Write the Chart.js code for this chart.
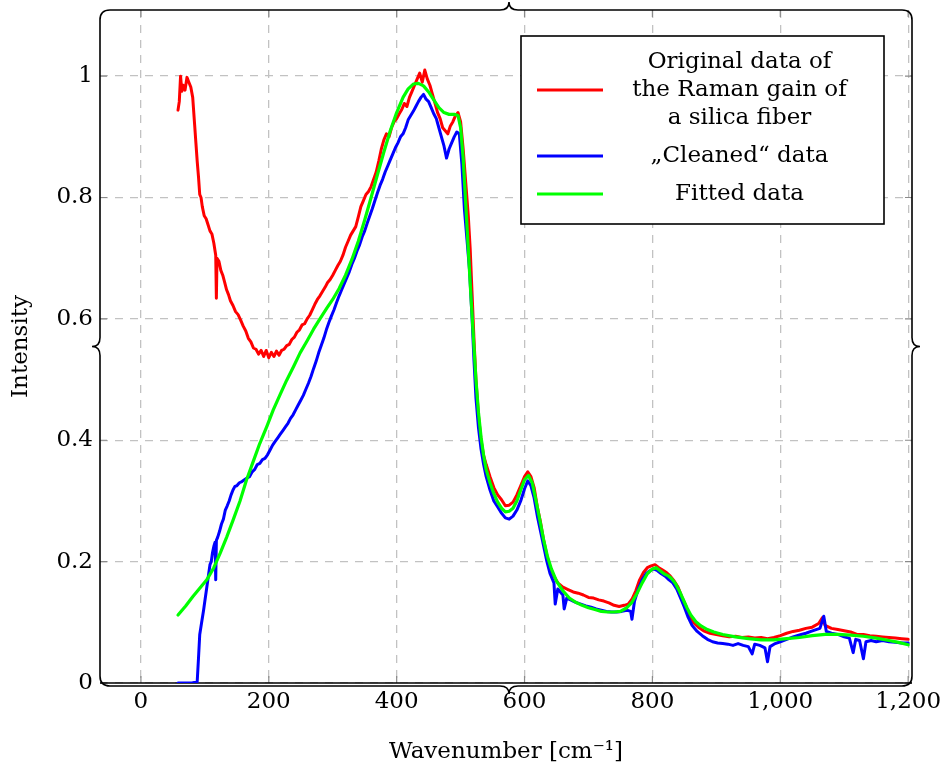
<!DOCTYPE html>
<html>
<head>
<meta charset="utf-8">
<script src="https://cdn.jsdelivr.net/npm/chart.js@4.4.0/dist/chart.umd.min.js"></script>
<style>
html, body { margin: 0; padding: 0; background: #fff; }
</style>
</head>
<body>
<canvas id="raman_chart" width="947" height="769"></canvas>
<script>
// original measurement (red)
var originalX = [58, 60, 62, 64, 66, 69, 72, 75, 78, 81, 84, 86, 88, 90, 92, 94, 96, 99, 102, 105, 108, 111, 114, 117, 118, 119, 122, 125, 128, 131, 134, 137, 140, 144, 148, 152, 156, 160, 164, 168, 172, 176, 180, 184, 188, 192, 196, 200, 204, 208, 212, 216, 220, 224, 228, 232, 236, 240, 244, 248, 252, 256, 260, 264, 268, 272, 276, 280, 284, 288, 292, 296, 300, 304, 308, 312, 316, 320, 324, 328, 332, 336, 340, 344, 348, 352, 356, 360, 364, 368, 372, 376, 380, 384, 388, 392, 396, 400, 404, 408, 412, 416, 420, 424, 428, 432, 436, 440, 444, 448, 452, 456, 460, 464, 468, 472, 476, 480, 484, 488, 492, 496, 500, 504, 508, 512, 515, 518, 521, 524, 528, 532, 536, 540, 546, 552, 558, 564, 570, 576, 582, 588, 594, 600, 605, 610, 615, 620, 625, 630, 635, 640, 646, 652, 660, 668, 676, 684, 692, 700, 708, 716, 724, 732, 740, 748, 756, 762, 768, 774, 780, 786, 792, 798, 804, 810, 816, 822, 828, 834, 840, 846, 852, 858, 864, 872, 880, 890, 900, 910, 920, 930, 940, 950, 960, 970, 980, 990, 1000, 1010, 1020, 1030, 1040, 1050, 1060, 1066, 1070, 1080, 1090, 1100, 1110, 1120, 1130, 1140, 1150, 1160, 1170, 1180, 1190, 1200];
var originalY = [0.944, 0.958, 1.0, 0.975, 0.985, 0.977, 0.998, 0.99, 0.982, 0.965, 0.92, 0.89, 0.86, 0.835, 0.805, 0.8, 0.785, 0.77, 0.765, 0.755, 0.745, 0.74, 0.725, 0.705, 0.634, 0.70, 0.695, 0.68, 0.672, 0.66, 0.648, 0.64, 0.63, 0.622, 0.612, 0.607, 0.598, 0.588, 0.58, 0.568, 0.562, 0.552, 0.55, 0.542, 0.548, 0.538, 0.548, 0.536, 0.545, 0.538, 0.547, 0.54, 0.548, 0.55, 0.556, 0.558, 0.566, 0.57, 0.578, 0.582, 0.59, 0.592, 0.6, 0.606, 0.615, 0.624, 0.632, 0.638, 0.645, 0.652, 0.66, 0.665, 0.672, 0.68, 0.688, 0.695, 0.705, 0.718, 0.728, 0.738, 0.745, 0.752, 0.768, 0.785, 0.795, 0.805, 0.81, 0.818, 0.83, 0.842, 0.86, 0.88, 0.895, 0.905, 0.9, 0.915, 0.925, 0.93, 0.938, 0.945, 0.955, 0.95, 0.965, 0.975, 0.985, 0.995, 1.005, 0.99, 1.01, 0.995, 0.985, 0.97, 0.955, 0.94, 0.93, 0.915, 0.91, 0.905, 0.918, 0.925, 0.935, 0.94, 0.925, 0.88, 0.825, 0.77, 0.715, 0.64, 0.565, 0.5, 0.44, 0.4, 0.375, 0.36, 0.34, 0.322, 0.31, 0.302, 0.292, 0.293, 0.298, 0.31, 0.325, 0.34, 0.348, 0.34, 0.322, 0.29, 0.265, 0.235, 0.21, 0.19, 0.176, 0.165, 0.158, 0.154, 0.15, 0.148, 0.145, 0.141, 0.14, 0.137, 0.135, 0.132, 0.128, 0.126, 0.128, 0.13, 0.138, 0.152, 0.17, 0.182, 0.19, 0.193, 0.195, 0.19, 0.186, 0.182, 0.176, 0.168, 0.158, 0.142, 0.128, 0.112, 0.1, 0.092, 0.086, 0.082, 0.08, 0.078, 0.076, 0.077, 0.075, 0.076, 0.074, 0.075, 0.073, 0.075, 0.078, 0.082, 0.085, 0.087, 0.09, 0.092, 0.098, 0.108, 0.095, 0.09, 0.088, 0.086, 0.084, 0.08, 0.08, 0.078, 0.077, 0.076, 0.075, 0.074, 0.073, 0.072];

// cleaned data (blue)
var cleanedX = [58, 70, 80, 88, 90, 92, 95, 98, 100, 102, 104, 106, 108, 110, 112, 114, 116, 117, 118, 120, 123, 126, 129, 132, 135, 138, 141, 144, 147, 150, 154, 158, 162, 166, 170, 174, 178, 182, 186, 190, 194, 198, 202, 206, 210, 214, 218, 222, 226, 230, 234, 238, 242, 246, 250, 254, 258, 262, 266, 270, 274, 278, 282, 286, 290, 294, 298, 302, 306, 310, 314, 318, 322, 326, 330, 334, 338, 342, 346, 350, 354, 358, 362, 366, 370, 374, 378, 382, 386, 390, 394, 398, 402, 406, 410, 414, 418, 422, 426, 430, 434, 438, 442, 446, 450, 454, 458, 462, 466, 470, 474, 478, 482, 486, 490, 494, 498, 502, 506, 510, 514, 518, 521, 524, 528, 532, 536, 540, 546, 552, 558, 564, 570, 576, 582, 588, 594, 600, 605, 610, 615, 620, 625, 630, 635, 640, 646, 648, 652, 656, 660, 662, 666, 672, 680, 688, 696, 704, 712, 720, 728, 736, 744, 752, 760, 766, 768, 772, 778, 784, 790, 796, 802, 808, 814, 820, 826, 832, 838, 844, 850, 856, 862, 870, 878, 886, 894, 902, 910, 918, 926, 934, 942, 950, 956, 960, 968, 976, 980, 984, 992, 1000, 1010, 1020, 1030, 1040, 1048, 1056, 1062, 1068, 1072, 1080, 1090, 1100, 1108, 1114, 1118, 1124, 1130, 1134, 1142, 1150, 1160, 1170, 1180, 1190, 1200];
var cleanedY = [0, 0, 0, 0.002, 0.04, 0.08, 0.1, 0.12, 0.135, 0.15, 0.165, 0.18, 0.195, 0.2, 0.215, 0.225, 0.232, 0.17, 0.235, 0.24, 0.25, 0.262, 0.27, 0.285, 0.292, 0.3, 0.31, 0.318, 0.324, 0.325, 0.33, 0.332, 0.335, 0.338, 0.34, 0.348, 0.352, 0.36, 0.362, 0.368, 0.37, 0.376, 0.384, 0.392, 0.398, 0.404, 0.41, 0.416, 0.422, 0.428, 0.436, 0.442, 0.45, 0.458, 0.466, 0.474, 0.484, 0.494, 0.505, 0.518, 0.53, 0.544, 0.556, 0.568, 0.582, 0.594, 0.605, 0.615, 0.627, 0.638, 0.648, 0.658, 0.668, 0.678, 0.69, 0.7, 0.712, 0.722, 0.735, 0.745, 0.758, 0.77, 0.782, 0.795, 0.808, 0.82, 0.83, 0.842, 0.852, 0.862, 0.872, 0.882, 0.89, 0.9, 0.905, 0.915, 0.928, 0.935, 0.942, 0.95, 0.958, 0.965, 0.97, 0.962, 0.958, 0.948, 0.938, 0.93, 0.915, 0.9, 0.885, 0.865, 0.88, 0.89, 0.9, 0.908, 0.905, 0.855, 0.78, 0.73, 0.68, 0.6, 0.53, 0.47, 0.42, 0.385, 0.36, 0.34, 0.318, 0.3, 0.29, 0.28, 0.272, 0.27, 0.275, 0.285, 0.3, 0.32, 0.333, 0.325, 0.305, 0.275, 0.25, 0.225, 0.2, 0.18, 0.165, 0.13, 0.155, 0.15, 0.145, 0.122, 0.14, 0.137, 0.133, 0.13, 0.127, 0.125, 0.122, 0.12, 0.118, 0.117, 0.117, 0.118, 0.12, 0.118, 0.105, 0.135, 0.155, 0.17, 0.18, 0.185, 0.188, 0.185, 0.18, 0.176, 0.17, 0.165, 0.155, 0.14, 0.125, 0.108, 0.095, 0.085, 0.078, 0.072, 0.068, 0.066, 0.065, 0.064, 0.062, 0.065, 0.062, 0.06, 0.048, 0.064, 0.062, 0.058, 0.035, 0.06, 0.065, 0.068, 0.072, 0.076, 0.079, 0.082, 0.085, 0.088, 0.09, 0.11, 0.085, 0.082, 0.08, 0.076, 0.074, 0.05, 0.072, 0.07, 0.04, 0.068, 0.07, 0.068, 0.07, 0.068, 0.067, 0.066, 0.066];

// fitted curve (green)
var fittedX = [58, 70, 81, 92, 103, 114, 124, 134, 144, 155, 165, 176, 186, 197, 207, 218, 228, 239, 249, 260, 270, 280, 291, 300, 310, 320, 330, 340, 350, 360, 370, 380, 390, 400, 410, 418, 426, 434, 442, 450, 458, 466, 474, 482, 490, 496, 500, 504, 508, 512, 516, 520, 524, 528, 532, 536, 540, 546, 552, 558, 564, 570, 576, 582, 588, 594, 600, 606, 612, 618, 624, 630, 636, 642, 650, 660, 670, 680, 690, 700, 710, 720, 730, 740, 750, 760, 768, 776, 784, 792, 800, 806, 812, 818, 824, 830, 836, 842, 848, 854, 860, 868, 876, 886, 896, 910, 930, 950, 970, 990, 1010, 1030, 1050, 1070, 1090, 1110, 1130, 1150, 1170, 1185, 1200];
var fittedY = [0.112, 0.127, 0.142, 0.156, 0.17, 0.19, 0.214, 0.24, 0.268, 0.3, 0.334, 0.366, 0.395, 0.423, 0.45, 0.476, 0.499, 0.522, 0.544, 0.564, 0.583, 0.6, 0.618, 0.632, 0.65, 0.672, 0.698, 0.728, 0.763, 0.8, 0.838, 0.875, 0.91, 0.94, 0.965, 0.979, 0.987, 0.988, 0.984, 0.974, 0.961, 0.948, 0.94, 0.937, 0.937, 0.935, 0.915, 0.865, 0.79, 0.715, 0.64, 0.57, 0.5, 0.445, 0.405, 0.375, 0.352, 0.33, 0.312, 0.298, 0.288, 0.282, 0.283, 0.288, 0.3, 0.318, 0.335, 0.342, 0.33, 0.3, 0.268, 0.235, 0.208, 0.188, 0.168, 0.152, 0.14, 0.133, 0.128, 0.124, 0.121, 0.118, 0.117, 0.117, 0.118, 0.124, 0.133, 0.148, 0.165, 0.18, 0.188, 0.19, 0.185, 0.18, 0.177, 0.172, 0.164, 0.152, 0.138, 0.124, 0.112, 0.101, 0.094, 0.088, 0.084, 0.08, 0.076, 0.073, 0.071, 0.071, 0.073, 0.075, 0.078, 0.08, 0.08, 0.079, 0.077, 0.074, 0.07, 0.067, 0.063];

var seriesLabels = ["Original data of\nthe Raman gain of\na silica fiber", "\u201eCleaned\u201c data", "Fitted data"];
var seriesColors = ["#ff0000", "#0000ff", "#00ff00"];
var xTicks = [0, 200, 400, 600, 800, 1000, 1200];
var yTicks = [0, 0.2, 0.4, 0.6, 0.8, 1];

var fontFamily = "'DejaVu Serif', serif";

function toPoints(xs, ys) {
    return xs.map(function(x, i) { return { x: x, y: ys[i] }; });
}

// axis box with a brace on every side, ticks drawn inside
var braceFrame = {
    id: 'braceFrame',
    beforeDatasetsDraw: function(chart) {
        var ctx = chart.ctx;
        var a = chart.chartArea;
        var L = a.left, R = a.right, T = a.top, B = a.bottom;
        var r = 10, tip = 8, w = 9;
        var mx = (L + R) / 2 + 3, my = (T + B) / 2;
        ctx.save();

        ctx.strokeStyle = '#8a8a8a';
        ctx.lineWidth = 1.2;
        ctx.beginPath();
        chart.scales.x.ticks.forEach(function(t) {
            var px = chart.scales.x.getPixelForValue(t.value);
            ctx.moveTo(px, B); ctx.lineTo(px, B - 7);
            ctx.moveTo(px, T); ctx.lineTo(px, T + 7);
        });
        chart.scales.y.ticks.forEach(function(t) {
            var py = chart.scales.y.getPixelForValue(t.value);
            ctx.moveTo(L, py); ctx.lineTo(L + 7, py);
            ctx.moveTo(R, py); ctx.lineTo(R - 7, py);
        });
        ctx.stroke();

        ctx.strokeStyle = '#000';
        ctx.lineWidth = 1.6;
        var Bb = B + 3;
        ctx.beginPath();
        ctx.moveTo(L, T + r);
        ctx.quadraticCurveTo(L, T, L + r, T);
        ctx.lineTo(mx - w, T);
        ctx.quadraticCurveTo(mx, T, mx, T - tip);
        ctx.quadraticCurveTo(mx, T, mx + w, T);
        ctx.lineTo(R - r, T);
        ctx.quadraticCurveTo(R, T, R, T + r);
        ctx.lineTo(R, my - w);
        ctx.quadraticCurveTo(R, my, R + tip, my);
        ctx.quadraticCurveTo(R, my, R, my + w);
        ctx.lineTo(R, Bb - r);
        ctx.quadraticCurveTo(R, Bb, R - r, Bb);
        ctx.lineTo(mx + w, Bb);
        ctx.quadraticCurveTo(mx, Bb, mx, Bb + tip);
        ctx.quadraticCurveTo(mx, Bb, mx - w, Bb);
        ctx.lineTo(L + r, Bb);
        ctx.quadraticCurveTo(L, Bb, L, Bb - r);
        ctx.lineTo(L, my + w);
        ctx.quadraticCurveTo(L, my, L - tip, my);
        ctx.quadraticCurveTo(L, my, L, my - w);
        ctx.closePath();
        ctx.stroke();

        ctx.beginPath();
        ctx.moveTo(L, B);
        ctx.lineTo(R, B);
        ctx.stroke();
        ctx.restore();
    }
};

// boxed legend, top right, labels centred
var boxLegend = {
    id: 'boxLegend',
    afterDraw: function(chart) {
        var ctx = chart.ctx;
        var a = chart.chartArea;
        var boxR = a.right - 28, boxT = a.top + 26, boxW = 363, boxH = 188;
        var boxL = boxR - boxW;
        var lineH = 28;
        ctx.save();
        ctx.fillStyle = '#fff';
        ctx.fillRect(boxL, boxT, boxW, boxH);
        ctx.strokeStyle = '#000';
        ctx.lineWidth = 1.6;
        ctx.strokeRect(boxL, boxT, boxW, boxH);

        ctx.font = '23px ' + fontFamily;
        ctx.textAlign = 'center';
        ctx.textBaseline = 'middle';
        var sampleL = boxL + 16, sampleR = boxL + 82;
        var textX = sampleR + (boxR - sampleR) / 2 - 4;
        var y = boxT + 12;
        chart.data.datasets.forEach(function(ds) {
            var lines = ds.label.split('\n');
            var centre = y + lines.length * lineH / 2;
            ctx.strokeStyle = ds.borderColor;
            ctx.lineWidth = ds.borderWidth;
            ctx.beginPath();
            ctx.moveTo(sampleL, centre);
            ctx.lineTo(sampleR, centre);
            ctx.stroke();
            ctx.fillStyle = '#000';
            lines.forEach(function(txt, k) {
                ctx.fillText(txt, textX, y + lineH * k + lineH / 2);
            });
            y += lines.length * lineH + 10;
        });
        ctx.restore();
    }
};

var ctxRaman = document.getElementById('raman_chart').getContext('2d');
var raman_chart = new Chart(ctxRaman, {
    type: 'line',
    data: {
        datasets: [{
            label: seriesLabels[0],
            data: toPoints(originalX, originalY),
            borderColor: seriesColors[0],
            borderWidth: 3,
            order: 3
        }, {
            label: seriesLabels[1],
            data: toPoints(cleanedX, cleanedY),
            borderColor: seriesColors[1],
            borderWidth: 3,
            order: 2
        }, {
            label: seriesLabels[2],
            data: toPoints(fittedX, fittedY),
            borderColor: seriesColors[2],
            borderWidth: 3.2,
            order: 1
        }]
    },
    options: {
        responsive: false,
        animation: false,
        elements: {
            point: { radius: 0 },
            line: { tension: 0, borderJoinStyle: 'round', borderCapStyle: 'round' }
        },
        layout: { padding: { left: 0, right: 35, top: 10, bottom: 0 } },
        plugins: {
            legend: { display: false },
            tooltip: { enabled: false }
        },
        scales: {
            x: {
                type: 'linear',
                min: -64,
                max: 1206,
                afterBuildTicks: function(s) { s.ticks = xTicks.map(function(v) { return { value: v }; }); },
                afterFit: function(s) { s.height = 86; s.paddingLeft = 0; s.paddingRight = 0; },
                grid: { color: '#c2c2c2', lineWidth: 1.3, drawTicks: false },
                border: { display: false, dash: [8, 7] },
                ticks: {
                    padding: 5,
                    color: '#000',
                    maxRotation: 0,
                    autoSkip: false,
                    font: { family: fontFamily, size: 23 },
                    callback: function(v) { return v.toLocaleString('en-US'); }
                },
                title: {
                    display: true,
                    text: 'Wavenumber [cm\u207b\u00b9]',
                    color: '#000',
                    font: { family: fontFamily, size: 23 },
                    padding: { top: 0, bottom: 3 }
                }
            },
            y: {
                min: 0,
                max: 1.109,
                afterBuildTicks: function(s) { s.ticks = yTicks.map(function(v) { return { value: v }; }); },
                afterFit: function(s) { s.width = 100; s.paddingTop = 0; s.paddingBottom = 0; },
                grid: { color: '#c2c2c2', lineWidth: 1.3, drawTicks: false },
                border: { display: false, dash: [8, 7] },
                ticks: {
                    padding: 7,
                    color: '#000',
                    font: { family: fontFamily, size: 23 },
                    callback: function(v) { return String(v); }
                },
                title: {
                    display: true,
                    text: 'Intensity',
                    color: '#000',
                    font: { family: fontFamily, size: 23 },
                    padding: { top: 7, bottom: 0 }
                }
            }
        }
    },
    plugins: [braceFrame, boxLegend]
});
</script>
</body>
</html>
